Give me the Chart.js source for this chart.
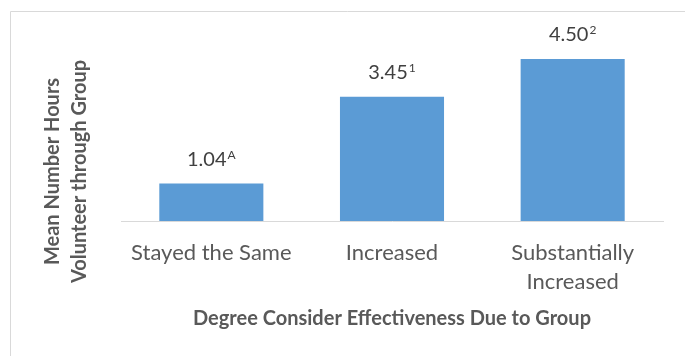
<!DOCTYPE html>
<html><head><meta charset="utf-8">
<script src="https://cdn.jsdelivr.net/npm/chart.js@4"></script>
<style>html,body{margin:0;padding:0;background:#fff}canvas{display:block}</style>
</head><body>
<canvas id="c" width="685" height="356"></canvas>
<script>
const categories = [['Stayed the Same'], ['Increased'], ['Substantially', 'Increased']];
const values = [1.04, 3.45, 4.50];
const superscripts = ['A', '1', '2'];
const yTitleLines = ['Mean Number Hours', 'Volunteer through Group'];
const xTitle = 'Degree Consider Effectiveness Due to Group';
const yMin = 0, yMax = 5;

const FONT = 'Lato, "Open Sans", sans-serif';

const framePlugin = {
  id: 'frame',
  beforeDraw(chart) {
    const ctx = chart.ctx;
    ctx.save();
    ctx.strokeStyle = '#d9d9d9'; ctx.lineWidth = 1;
    ctx.beginPath();
    ctx.moveTo(10.5, chart.height); ctx.lineTo(10.5, 11.5); ctx.lineTo(chart.width, 11.5);
    ctx.stroke();
    ctx.restore();
  }
};

const labelPlugin = {
  id: 'barLabels',
  afterDatasetsDraw(chart) {
    const ctx = chart.ctx;
    const meta = chart.getDatasetMeta(0);
    ctx.save();
    meta.data.forEach((bar, i) => {
      const main = values[i].toFixed(2);
      const sup = superscripts[i];
      ctx.font = '20px ' + FONT;
      const wMain = ctx.measureText(main).width;
      ctx.font = '12px ' + FONT;
      const wSup = ctx.measureText(sup).width;
      const x0 = bar.x - (wMain + wSup + 1) / 2;
      const base = bar.y - 18;
      ctx.fillStyle = '#404040';
      ctx.textBaseline = 'alphabetic'; ctx.textAlign = 'left';
      ctx.font = '20px ' + FONT;
      ctx.fillText(main, x0, base);
      ctx.font = '12px ' + FONT;
      ctx.fillText(sup, x0 + wMain + 1, base - 7);
    });
    ctx.restore();
  }
};

const titlePlugin = {
  id: 'axisTitles',
  afterDraw(chart) {
    const ctx = chart.ctx; const a = chart.chartArea;
    ctx.save();
    ctx.fillStyle = '#595959';
    ctx.font = 'bold 20px ' + FONT;
    ctx.textAlign = 'center'; ctx.textBaseline = 'alphabetic';
    ctx.fillText(xTitle, (a.left + a.right) / 2, 325);
    ctx.translate(0, 171.5); ctx.rotate(-Math.PI / 2);
    ctx.fillText(yTitleLines[0], 0, 59);
    ctx.fillText(yTitleLines[1], 0, 86);
    ctx.restore();
  }
};

new Chart(document.getElementById('c'), {
  type: 'bar',
  data: {
    labels: categories,
    datasets: [{
      data: values,
      backgroundColor: '#5b9bd5',
      borderWidth: 0,
      barPercentage: 0.576,
      categoryPercentage: 1
    }]
  },
  options: {
    responsive: false,
    animation: false,
    layout: { padding: { left: 121, right: 22, top: 41, bottom: 0 } },
    plugins: { legend: { display: false }, tooltip: { enabled: false } },
    scales: {
      x: {
        grid: { display: false },
        border: { display: true, color: '#d9d9d9', width: 1 },
        ticks: { color: '#595959', font: { family: FONT, size: 22, lineHeight: '28.5px' }, padding: 10, maxRotation: 0, autoSkip: false },
        afterFit(s) { s.height = 135; }
      },
      y: { display: false, min: yMin, max: yMax }
    }
  },
  plugins: [framePlugin, labelPlugin, titlePlugin]
});
</script>
</body></html>
